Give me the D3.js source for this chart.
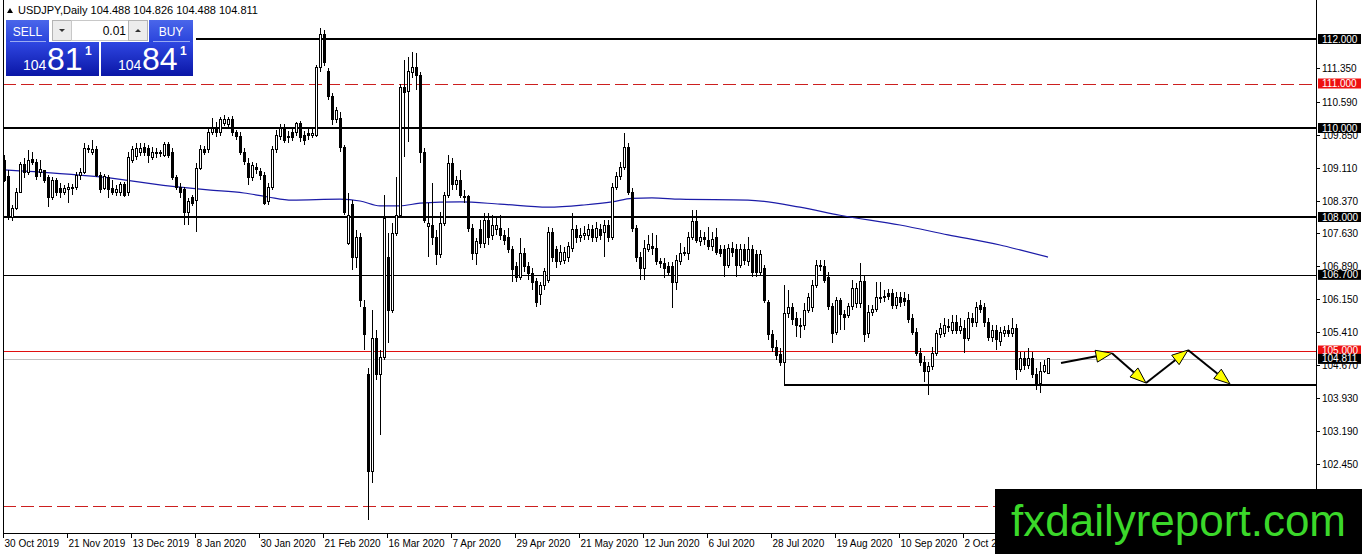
<!DOCTYPE html>
<html>
<head>
<meta charset="utf-8">
<script src="https://cdn.jsdelivr.net/npm/d3@7"></script>
<style>
body { margin: 0; background: #fff; overflow: hidden; }
svg { display: block; font-family: "Liberation Sans", Arial, sans-serif; }
</style>
</head>
<body>
<svg id="chart" width="1362" height="554"></svg>
<script>
// USDJPY daily, one value per bar (bar 0 = 30 Oct 2019)
var opens = [109.28,108.90,108.00,108.20,108.56,109.17,109.00,109.30,109.23,108.99,
	109.04,108.88,108.43,108.83,108.65,108.56,108.61,108.65,108.67,108.94,
	109.01,109.55,109.44,109.51,108.94,108.65,108.88,108.65,108.56,108.54,
	108.72,108.54,109.28,109.35,109.46,109.57,109.55,109.33,109.44,109.42,
	109.39,109.62,109.46,108.88,108.67,108.61,108.09,108.43,108.38,109.10,
	109.51,109.51,109.91,110.00,109.89,110.11,110.07,110.20,109.89,109.82,
	109.46,109.21,108.88,109.12,109.03,108.94,108.34,108.67,109.51,109.80,
	110.00,109.80,109.89,109.89,110.09,109.84,109.87,109.84,109.84,111.35,
	112.09,111.26,110.70,110.18,110.22,109.57,107.41,108.27,107.10,107.53,
	105.96,104.45,102.27,105.28,104.45,104.85,107.08,105.91,107.64,108.04,
	110.92,110.81,111.24,111.35,111.19,109.46,107.78,107.80,107.55,107.15,
	107.86,108.49,109.21,108.72,108.83,108.47,108.45,107.75,107.19,107.71,
	107.41,107.93,107.59,107.71,107.75,107.59,107.53,107.26,106.88,106.65,
	107.19,106.88,106.74,106.54,106.25,106.45,106.58,107.66,107.26,106.99,
	107.03,107.08,107.30,107.71,107.53,107.59,107.59,107.71,107.53,107.71,
	107.66,107.82,107.55,108.67,108.90,109.12,109.57,108.56,107.75,107.10,
	106.85,107.28,107.33,107.30,106.99,106.96,106.88,106.88,106.52,106.99,
	107.21,107.19,107.55,107.89,107.44,107.53,107.48,107.33,107.53,107.26,
	107.26,106.92,107.30,107.26,106.92,107.26,106.99,107.26,107.15,106.76,
	106.85,106.07,105.35,105.06,104.92,104.72,105.84,105.96,105.73,105.53,
	105.57,105.91,105.96,106.47,106.92,106.88,106.65,105.98,105.41,106.13,
	105.80,105.78,105.98,106.05,106.05,106.54,105.39,105.86,105.93,106.16,
	106.18,106.27,106.27,106.02,106.18,106.16,106.13,105.73,105.41,104.94,
	104.74,104.52,104.63,104.94,105.35,105.39,105.55,105.46,105.64,105.46,
	105.50,105.28,105.73,105.62,106.02,105.96,105.62,105.30,105.46,105.21,
	105.39,105.46,105.39,105.50,104.58,104.83,104.67,104.83,104.45,104.25,
	104.52,104.488];
var highs = [109.39,109.06,108.27,108.65,109.24,109.33,109.51,109.46,109.30,109.28,
	109.06,108.94,108.90,108.88,108.76,108.72,108.76,108.74,109.01,109.10,
	109.66,109.62,109.73,109.60,109.01,108.97,108.94,108.83,108.72,108.79,
	108.79,109.46,109.60,109.66,109.66,109.66,109.62,109.57,109.55,109.51,
	109.69,109.69,109.55,108.94,108.76,108.67,108.43,108.49,109.21,109.62,
	109.60,110.00,110.22,110.13,110.25,110.29,110.25,110.27,109.95,109.91,
	109.55,109.33,109.24,109.21,109.10,109.01,108.76,109.60,109.95,110.09,
	110.09,109.93,110.00,110.13,110.16,109.93,109.98,110.00,111.41,112.25,
	112.20,111.35,110.79,110.47,110.36,109.62,108.54,108.38,107.71,107.64,
	106.13,104.61,105.91,105.46,105.01,108.49,107.64,107.86,108.90,110.99,
	111.53,111.60,111.71,111.68,111.26,109.55,108.31,108.76,107.71,108.11,
	108.56,109.39,109.33,108.92,109.06,108.61,108.49,107.84,107.53,107.93,
	108.09,108.09,108.04,107.98,108.04,107.71,107.75,107.35,106.99,107.53,
	107.30,106.99,106.85,106.63,106.54,106.85,107.77,107.75,107.35,107.37,
	107.33,107.44,108.09,107.82,107.75,107.80,107.84,107.82,107.89,107.84,
	107.93,107.93,108.76,109.01,109.24,109.89,109.66,108.65,107.82,107.21,
	107.48,107.59,107.64,107.59,107.08,107.08,106.99,106.99,107.15,107.41,
	107.33,107.66,108.16,108.16,107.71,107.66,107.77,107.66,107.75,107.37,
	107.37,107.39,107.44,107.39,107.39,107.39,107.55,107.37,107.26,107.26,
	106.92,106.13,105.46,105.24,105.06,106.47,106.36,106.07,105.87,105.73,
	106.07,106.29,106.58,107.03,107.03,107.03,106.76,106.07,106.20,106.18,
	105.91,106.07,106.58,106.52,106.97,106.70,106.02,106.02,106.54,106.54,
	106.36,106.38,106.38,106.31,106.31,106.31,106.27,105.82,105.50,105.06,
	104.88,104.74,105.08,105.46,105.62,105.73,105.71,105.80,105.80,105.73,
	105.69,105.87,105.84,106.09,106.13,106.07,105.73,105.57,105.57,105.53,
	105.55,105.57,105.73,105.59,104.97,104.97,105.06,104.97,104.61,104.74,
	104.79,104.826];
var lows = [108.79,107.93,107.90,108.16,108.54,108.88,108.94,109.17,108.83,108.90,
	108.76,108.22,108.38,108.47,108.43,108.49,108.31,108.49,108.61,108.83,
	108.97,109.44,109.39,108.90,108.54,108.61,108.43,108.49,108.47,108.47,
	108.45,108.47,109.21,109.28,109.37,109.37,109.21,109.28,109.33,109.35,
	109.35,109.33,108.83,108.61,108.43,107.82,107.82,108.25,107.66,109.06,
	109.39,109.44,109.84,109.80,109.82,110.04,110.00,109.82,109.73,109.39,
	109.17,108.72,108.81,108.97,108.83,108.27,108.27,108.61,109.44,109.73,
	109.66,109.66,109.71,109.82,109.69,109.62,109.73,109.78,109.80,111.26,
	111.39,110.63,110.07,110.11,109.46,108.04,107.37,106.81,106.85,105.98,
	105.01,101.19,102.02,104.34,103.10,104.79,105.17,105.84,107.57,107.98,
	109.35,109.69,111.12,110.85,109.21,107.86,107.10,107.37,106.92,107.08,
	107.80,108.43,108.61,108.61,108.43,108.31,107.66,107.03,106.92,107.30,
	107.30,107.37,107.48,107.59,107.48,107.37,107.19,106.54,106.54,106.58,
	106.76,106.58,106.36,105.98,106.02,106.36,106.52,106.99,106.85,106.92,
	106.94,106.99,107.21,107.41,107.44,107.48,107.48,107.44,107.44,107.48,
	107.10,107.44,107.48,108.61,108.83,109.06,108.49,107.66,106.99,106.58,
	106.58,107.21,107.15,106.92,106.85,106.63,106.70,105.96,106.36,106.92,
	107.12,107.03,107.48,107.41,107.35,107.37,107.26,107.24,107.15,107.10,
	106.65,106.85,107.10,106.65,106.85,106.92,106.90,106.65,106.65,106.67,
	106.07,105.24,104.97,104.79,104.65,104.22,105.73,105.57,105.30,105.28,
	105.46,105.84,105.87,106.40,106.79,106.52,105.91,105.17,105.35,105.46,
	105.46,105.73,105.91,105.96,105.96,105.19,105.28,105.78,105.87,106.07,
	106.09,106.13,105.93,105.93,105.98,106.00,105.62,105.35,104.88,104.65,
	104.29,104.00,104.56,104.88,105.28,105.30,105.42,105.37,105.37,105.37,
	104.94,105.21,105.53,105.53,105.84,105.53,105.21,105.19,105.01,105.10,
	105.30,105.30,105.30,104.34,104.52,104.56,104.58,104.38,104.11,104.04,
	104.49,104.488];
var closes = [108.83,108.00,108.20,108.56,109.17,108.99,109.28,109.23,108.90,109.06,
	108.83,108.43,108.83,108.56,108.54,108.65,108.67,108.67,108.94,109.01,
	109.55,109.51,109.51,108.94,108.61,108.90,108.61,108.56,108.61,108.72,
	108.49,109.33,109.51,109.53,109.55,109.44,109.39,109.46,109.46,109.44,
	109.62,109.39,108.88,108.67,108.54,108.09,108.34,108.31,109.10,109.51,
	109.46,109.91,110.00,109.89,110.18,110.18,110.20,109.89,109.80,109.46,
	109.24,108.88,109.15,109.06,108.94,108.31,108.67,109.51,109.84,110.00,
	109.73,109.78,109.78,110.09,109.78,109.73,109.84,109.87,111.35,112.09,
	111.48,110.70,110.18,110.40,109.57,108.09,108.04,107.10,107.53,106.13,
	105.35,102.27,105.28,104.45,104.85,107.97,105.91,107.64,108.04,110.92,
	110.79,111.26,111.35,111.19,109.46,107.93,107.86,107.53,107.15,107.86,
	108.49,109.21,108.72,108.83,108.49,108.45,107.75,107.19,107.44,107.41,
	107.93,107.53,107.80,107.82,107.59,107.48,107.26,106.81,106.65,107.19,
	106.88,106.72,106.52,106.07,106.45,106.78,107.66,107.10,106.99,107.21,
	107.21,107.33,107.71,107.53,107.59,107.64,107.71,107.53,107.75,107.59,
	107.80,107.55,108.67,108.90,109.12,109.57,108.56,107.75,107.10,106.85,
	107.30,107.39,107.30,106.99,106.96,106.85,106.76,106.52,107.03,107.19,
	107.19,107.55,107.89,107.48,107.53,107.50,107.33,107.50,107.21,107.19,
	106.92,107.30,107.21,106.92,107.26,107.03,107.26,106.76,106.76,107.15,
	106.13,105.35,105.06,104.88,104.72,105.84,105.96,105.69,105.57,105.57,
	105.91,106.18,106.47,106.90,106.88,106.58,105.98,105.39,106.13,105.80,
	105.75,105.98,106.40,106.40,106.54,105.35,105.86,105.93,106.18,106.20,
	106.22,106.22,106.02,106.18,106.07,106.09,105.69,105.41,104.94,104.72,
	104.52,104.63,104.94,105.39,105.50,105.57,105.53,105.64,105.46,105.55,
	105.28,105.73,105.62,105.96,105.93,105.62,105.30,105.46,105.24,105.41,
	105.44,105.39,105.50,104.58,104.83,104.67,104.83,104.45,104.25,104.52,
	104.67,104.811];

// moving average at a few bars
var maBars = [0, 24, 44, 51, 60, 66, 72, 84, 89, 94, 99, 104, 114, 124, 136, 145, 152, 157, 162, 169, 186, 199, 209, 224, 236, 249, 254, 261];
var maValues = [109.06, 108.90, 108.67, 108.61, 108.54, 108.45, 108.38, 108.40, 108.36, 108.25, 108.25, 108.31, 108.34, 108.29, 108.22, 108.27, 108.34, 108.42, 108.43, 108.40, 108.38, 108.22, 108.04, 107.82, 107.60, 107.37, 107.26, 107.10];

// one label every 16 bars
var dateLabels = ["30 Oct 2019", "21 Nov 2019", "13 Dec 2019", "8 Jan 2020", "30 Jan 2020", "21 Feb 2020",
	"16 Mar 2020", "7 Apr 2020", "29 Apr 2020", "21 May 2020", "12 Jun 2020", "6 Jul 2020",
	"28 Jul 2020", "19 Aug 2020", "10 Sep 2020", "2 Oct 2020"];
var priceTicks = [111.35, 110.59, 109.85, 109.11, 108.37, 107.63, 106.89, 106.15, 105.41, 104.67, 103.93, 103.19, 102.45];

var thickLevels = [112, 110, 108];
var thinLevels = [106.7];
var redLevels = [105, 111];
var dashedLevels = [111, 101.5];
var bidPrice = 104.811;
var supportLevel = 104.22;
var supportFromBar = 195;

var arrowBars = [264.25, 277, 285.5, 296, 306.5];
var arrowPrices = [104.72, 104.94, 104.27, 105.01, 104.25];

var svg = d3.select("#chart");
var plotLeft = 3, plotRight = 1316, plotBottom = 533;
var x = d3.scaleLinear().domain([0, closes.length - 1]).range([4, 1048]);
var y = d3.scaleLinear().domain([100.899, 112.809]).range([plotBottom, 3]);
var fmt = d3.format(".3f");

drawLevels();
drawMovingAverage();
drawCandles();
drawArrows();
drawAxes();
drawTags();
drawTitle();
drawTradePanel();
drawWatermark();

function hline (g, price, x0, color, width, dash) {
	var py = width % 2 ? Math.round(y(price)) + 0.5 : Math.round(y(price));
	g.append("line")
		.attr("x1", x0).attr("x2", plotRight)
		.attr("y1", py).attr("y2", py)
		.attr("stroke", color)
		.attr("stroke-width", width)
		.attr("stroke-dasharray", dash || null)
		.attr("shape-rendering", "crispEdges");
}

function drawLevels () {
	var g = svg.append("g").attr("class", "levels");
	dashedLevels.forEach(function (p) { hline(g, p, plotLeft, "#cc1f1f", 1, "13,5"); });
	hline(g, bidPrice, plotLeft, "#c0c0c0", 1);
	redLevels.filter(function (p) { return dashedLevels.indexOf(p) < 0; })
		.forEach(function (p) { hline(g, p, plotLeft, "#e01010", 1); });
	thinLevels.forEach(function (p) { hline(g, p, plotLeft, "#000", 1); });
	thickLevels.forEach(function (p) { hline(g, p, plotLeft, "#000", 2); });
	hline(g, supportLevel, x(supportFromBar), "#000", 2);
}

function drawMovingAverage () {
	var line = d3.line()
		.x(function (d) { return x(d); })
		.y(function (d, i) { return y(maValues[i]); })
		.curve(d3.curveMonotoneX);
	svg.append("path")
		.attr("d", line(maBars))
		.attr("fill", "none")
		.attr("stroke", "#1c1ca8")
		.attr("stroke-width", 1.2);
}

function drawCandles () {
	var bars = d3.range(closes.length);
	var g = svg.append("g").attr("class", "candles").attr("shape-rendering", "crispEdges");
	g.selectAll("line.wick").data(bars).enter().append("line")
		.attr("class", "wick")
		.attr("x1", function (i) { return Math.round(x(i)) + 0.5; })
		.attr("x2", function (i) { return Math.round(x(i)) + 0.5; })
		.attr("y1", function (i) { return y(highs[i]); })
		.attr("y2", function (i) { return y(lows[i]); })
		.attr("stroke", "#000");
	g.selectAll("rect.body").data(bars).enter().append("rect")
		.attr("class", "body")
		.attr("x", function (i) { return Math.round(x(i)) - 0.5; })
		.attr("y", function (i) { return y(Math.max(opens[i], closes[i])); })
		.attr("width", 2)
		.attr("height", function (i) { return Math.max(1, Math.abs(y(opens[i]) - y(closes[i]))); })
		.attr("fill", function (i) { return closes[i] > opens[i] ? "#fff" : "#000"; })
		.attr("stroke", "#000");
}

function drawArrows () {
	var g = svg.append("g").attr("class", "arrows");
	for (var k = 0; k < arrowBars.length - 1; k++) {
		var x0 = x(arrowBars[k]), y0 = y(arrowPrices[k]);
		var x1 = x(arrowBars[k + 1]), y1 = y(arrowPrices[k + 1]);
		var len = Math.hypot(x1 - x0, y1 - y0);
		var ux = (x1 - x0) / len, uy = (y1 - y0) / len;
		var head = 16, half = 6;
		var bx = x1 - ux * head, by = y1 - uy * head;
		g.append("line")
			.attr("x1", x0).attr("y1", y0)
			.attr("x2", bx).attr("y2", by)
			.attr("stroke", "#000")
			.attr("stroke-width", 2);
		g.append("path")
			.attr("d", "M" + x1 + "," + y1
				+ " L" + (bx - uy * half) + "," + (by + ux * half)
				+ " L" + (bx + uy * half) + "," + (by - ux * half) + " Z")
			.attr("fill", "#ffff00")
			.attr("stroke", "#000")
			.attr("stroke-width", 1);
	}
}

function drawAxes () {
	var g = svg.append("g").attr("class", "axes").attr("shape-rendering", "crispEdges");
	g.append("line").attr("x1", plotLeft + 0.5).attr("x2", plotLeft + 0.5)
		.attr("y1", 0).attr("y2", plotBottom).attr("stroke", "#000");
	g.append("line").attr("x1", plotRight + 0.5).attr("x2", plotRight + 0.5)
		.attr("y1", 0).attr("y2", plotBottom).attr("stroke", "#000");
	g.append("line").attr("x1", plotLeft).attr("x2", plotRight + 1)
		.attr("y1", plotBottom + 0.5).attr("y2", plotBottom + 0.5).attr("stroke", "#000");

	var right = g.selectAll("g.ytick").data(priceTicks).enter().append("g")
		.attr("class", "ytick")
		.attr("transform", function (d) { return "translate(0," + (Math.round(y(d)) + 0.5) + ")"; });
	right.append("line").attr("x1", plotRight).attr("x2", plotRight + 4).attr("stroke", "#000");
	right.append("text")
		.attr("x", plotRight + 6).attr("dy", "0.35em")
		.attr("font-size", 10).attr("fill", "#000")
		.text(function (d) { return fmt(d); });

	var bottom = g.selectAll("g.xtick").data(dateLabels).enter().append("g")
		.attr("class", "xtick")
		.attr("transform", function (d, i) { return "translate(" + (Math.round(x(i * 16)) - 0.5) + ",0)"; });
	bottom.append("line").attr("y1", plotBottom).attr("y2", plotBottom + 5).attr("stroke", "#000");
	bottom.append("text")
		.attr("x", 1).attr("y", plotBottom + 14)
		.attr("font-size", 10).attr("fill", "#000")
		.text(function (d) { return d; });
}

function drawTags () {
	var tags = [];
	thickLevels.concat(thinLevels).forEach(function (p) { tags.push({ p: p, bg: "#000" }); });
	redLevels.forEach(function (p) { tags.push({ p: p, bg: "#ee1111" }); });
	tags.push({ p: bidPrice, bg: "#000" });
	var g = svg.append("g").attr("class", "tags");
	var t = g.selectAll("g").data(tags).enter().append("g")
		.attr("transform", function (d) { return "translate(" + (plotRight + 2) + "," + y(d.p) + ")"; });
	t.append("rect")
		.attr("x", 0).attr("y", -5).attr("width", 43).attr("height", 10)
		.attr("fill", function (d) { return d.bg; });
	t.append("text")
		.attr("x", 4).attr("dy", "0.35em")
		.attr("font-size", 10).attr("fill", "#fff")
		.text(function (d) { return fmt(d.p); });
}

function drawTitle () {
	svg.append("path").attr("d", "M7,13 L10,8 L13,13 Z").attr("fill", "#000");
	svg.append("text")
		.attr("x", 18).attr("y", 14)
		.attr("font-size", 11).attr("fill", "#000")
		.text("USDJPY,Daily  " + fmt(opens[opens.length - 1]) + " " + fmt(highs[highs.length - 1]) + " "
			+ fmt(lows[lows.length - 1]) + " " + fmt(closes[closes.length - 1]));
}

function drawTradePanel () {
	var defs = svg.append("defs");
	var big = defs.append("linearGradient").attr("id", "bigGrad").attr("x1", 0).attr("y1", 0).attr("x2", 0).attr("y2", 1);
	big.append("stop").attr("offset", "0%").attr("stop-color", "#2f47e2");
	big.append("stop").attr("offset", "100%").attr("stop-color", "#0a16a6");
	var tab = defs.append("linearGradient").attr("id", "tabGrad").attr("x1", 0).attr("y1", 0).attr("x2", 0).attr("y2", 1);
	tab.append("stop").attr("offset", "0%").attr("stop-color", "#4a66ea");
	tab.append("stop").attr("offset", "100%").attr("stop-color", "#2a44dc");

	var g = svg.append("g").attr("class", "panel");
	g.append("rect").attr("x", 4).attr("y", 17).attr("width", 192).attr("height", 61).attr("fill", "#fff");

	g.append("rect").attr("x", 6).attr("y", 20).attr("width", 43).attr("height", 22).attr("fill", "url(#tabGrad)");
	g.append("rect").attr("x", 149).attr("y", 20).attr("width", 44).attr("height", 22).attr("fill", "url(#tabGrad)");
	g.append("text").attr("x", 27.5).attr("y", 35.5).attr("text-anchor", "middle")
		.attr("font-size", 12).attr("fill", "#fff").text("SELL");
	g.append("text").attr("x", 171).attr("y", 35.5).attr("text-anchor", "middle")
		.attr("font-size", 12).attr("fill", "#fff").text("BUY");
	g.append("line").attr("x1", 10).attr("x2", 46).attr("y1", 41.5).attr("y2", 41.5).attr("stroke", "#9aaaf2");
	g.append("line").attr("x1", 153).attr("x2", 190).attr("y1", 41.5).attr("y2", 41.5).attr("stroke", "#9aaaf2");

	g.append("rect").attr("x", 52.5).attr("y", 20.5).attr("width", 19).attr("height", 20)
		.attr("fill", "#ececec").attr("stroke", "#b4b4b4");
	g.append("rect").attr("x", 71.5).attr("y", 20.5).attr("width", 57).attr("height", 20)
		.attr("fill", "#fff").attr("stroke", "#c8c8c8");
	g.append("rect").attr("x", 128.5).attr("y", 20.5).attr("width", 19).attr("height", 20)
		.attr("fill", "#ececec").attr("stroke", "#b4b4b4");
	g.append("path").attr("d", "M59,29 L65,29 L62,32 Z").attr("fill", "#333");
	g.append("path").attr("d", "M135,32 L141,32 L138,29 Z").attr("fill", "#333");
	g.append("text").attr("x", 126).attr("y", 35).attr("text-anchor", "end")
		.attr("font-size", 12).attr("fill", "#000").text("0.01");

	var bid = fmt(closes[closes.length - 1]);
	var ask = fmt(closes[closes.length - 1] + 0.03);
	[[6, 93, bid], [101, 92, ask]].forEach(function (b) {
		g.append("rect").attr("x", b[0]).attr("y", 42).attr("width", b[1]).attr("height", 34).attr("fill", "url(#bigGrad)");
		g.append("text").attr("x", b[0] + 17).attr("y", 70)
			.attr("font-size", 14).attr("fill", "#fff").text(b[2].slice(0, 3));
		g.append("text").attr("x", b[0] + 41).attr("y", 70)
			.attr("font-size", 32).attr("fill", "#fff").text(b[2].slice(4, 6));
		g.append("text").attr("x", b[0] + 79).attr("y", 55)
			.attr("font-size", 12).attr("font-weight", "bold").attr("fill", "#fff").text(b[2].slice(6));
	});
}

function drawWatermark () {
	svg.append("rect").attr("x", 995).attr("y", 489).attr("width", 367).attr("height", 65).attr("fill", "#000");
	svg.append("text").attr("x", 1011).attr("y", 536)
		.attr("font-size", 44).attr("fill", "#3bd82a")
		.text("fxdailyreport.com");
}
</script>
</body>
</html>
